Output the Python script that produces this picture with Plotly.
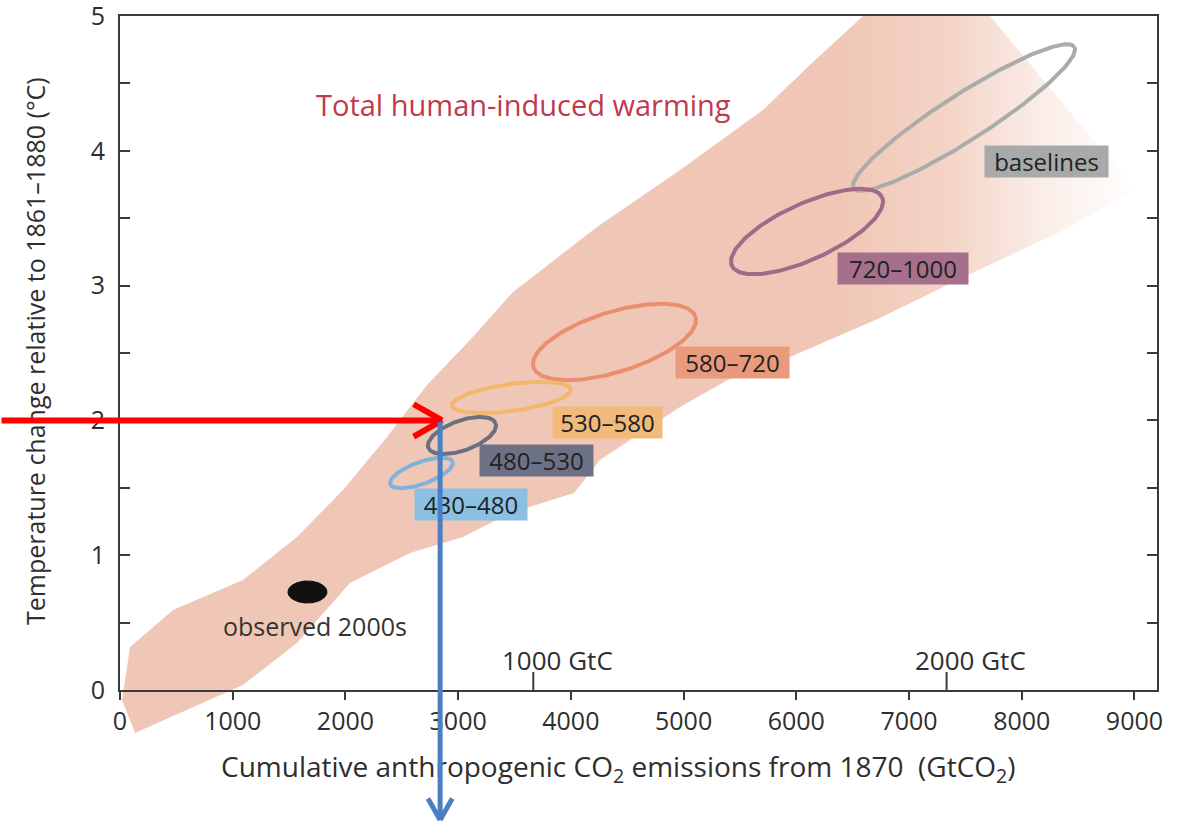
import math
import plotly.graph_objects as go

# ---------------- data ----------------
# Outline of the "total human-induced warming" band (GtCO2, degC)
BAND_UPPER_X = [18, 89, 470, 1091, 1570, 1978, 2369, 2724, 3105, 3487, 4232, 4968, 5704, 6148, 6592, 7718]
BAND_UPPER_Y = [-0.074, 0.319, 0.593, 0.816, 1.135, 1.484, 1.877, 2.263, 2.596, 2.953, 3.435, 3.858, 4.303, 4.659, 5.0, 5.0]
BAND_LOWER_X = [9005, 8339, 7523, 6742, 5944, 5438, 4968, 4525, 4258, 4028, 3460, 3043, 2573, 2040, 1570, 1091, 133]
BAND_LOWER_Y = [3.709, 3.398, 3.079, 2.760, 2.470, 2.322, 2.099, 1.855, 1.706, 1.461, 1.313, 1.135, 1.016, 0.794, 0.349, 0.037, -0.319]

# Scenario ellipses (CO2-eq concentration categories, ppm)
SCENARIOS = ["baselines", "720–1000", "580–720", "530–580", "480–530", "430–480"]
SCEN_CO2 = [7488, 6095, 4387, 3473, 3034, 2675]            # centre, GtCO2
SCEN_TEMP = [4.247, 3.401, 2.582, 2.170, 1.888, 1.610]      # centre, degC
SCEN_CO2_HALF = [979, 667, 719, 527, 299, 277]              # major half-axis, GtCO2 component
SCEN_TEMP_HALF = [0.524, 0.254, 0.187, 0.060, 0.090, 0.083] # major half-axis, degC component
SCEN_TEMP_WIDTH = [0.171, 0.208, 0.223, 0.100, 0.111, 0.082]  # minor half-axis, degC
LABEL_CO2 = [8220, 6946, 5434, 4325, 3695, 3114]
LABEL_TEMP = [3.921, 3.127, 2.433, 1.984, 1.699, 1.376]

OBS_NAME = "observed 2000s"
OBS_CO2, OBS_TEMP = 1663, 0.727
OBS_CO2_HALF, OBS_TEMP_WIDTH = 173, 0.082
OBS_LABEL_CO2, OBS_LABEL_TEMP = 1726, 0.475

BAND_NAME = "Total human-induced warming"
BAND_LABEL_CO2, BAND_LABEL_TEMP = 3584, 4.347

X_TICKS = [0, 1000, 2000, 3000, 4000, 5000, 6000, 7000, 8000, 9000]
X_TICK_TEXT = ["0", "1000", "2000", "3000", "4000", "5000", "6000", "7000", "8000", "9000"]
Y_TICKS = [0, 0.5, 1, 1.5, 2, 2.5, 3, 3.5, 4, 4.5, 5]
Y_TICK_TEXT = ["0", "", "1", "", "2", "", "3", "", "4", "", "5"]
GTC_TICKS = [1000, 2000]
GTCO2_PER_GTC = 44.0 / 12.0

READ_CO2 = 2840
READ_TEMP = 2.0
READ_ARROW_END = -0.95

# ---------------- layout / style constants ----------------
FIG_W, FIG_H = 1182, 821
BOX_L, BOX_R, BOX_T, BOX_B = 120, 1157, 16, 690   # frame in pixels
X_MAX, Y_MAX = 9200, 5
KX = (BOX_R - BOX_L) / X_MAX      # px per GtCO2
KY = (BOX_B - BOX_T) / Y_MAX      # px per degC
FULL_X = [-BOX_L / KX, X_MAX + (FIG_W - BOX_R) / KX]
FULL_Y = [-(FIG_H - BOX_B) / KY, Y_MAX + BOX_T / KY]
EPS = 1e-6

FONT = "Open Sans"
AXIS_COLOR = "#3a3a3a"
TEXT_COLOR = "#2e2e2e"
BAND_RGB = "240,199,182"
ELL_COLORS = ["#a9aca9", "#a3698a", "#ea8e70", "#f2b76a", "#6c6f80", "#80b3da"]
BOX_COLORS = ["#a8aaa9", "#a6708d", "#e99a7d", "#f1b97a", "#6d7186", "#8cc0e2"]
BOX_W = [123, 130, 113, 109, 113, 112]
BOX_H = 31


def ellipse(cx, cy, hx, hy, w, n=181):
    ux, uy = hx * KX, hy * KY
    a = math.hypot(ux, uy)
    nx, ny = -uy / a, ux / a
    bx, by = nx * w * KY, ny * w * KY
    xs, ys = [], []
    for i in range(n):
        t = 2 * math.pi * i / (n - 1)
        px = ux * math.cos(t) + bx * math.sin(t)
        py = uy * math.cos(t) + by * math.sin(t)
        xs.append(cx + px / KX)
        ys.append(cy + py / KY)
    return xs, ys


fig = go.Figure()

# band
fig.add_trace(go.Scatter(
    x=BAND_UPPER_X + BAND_LOWER_X + [BAND_UPPER_X[0]],
    y=BAND_UPPER_Y + BAND_LOWER_Y + [BAND_UPPER_Y[0]],
    mode="lines", fill="toself",
    line=dict(width=0, color="rgba(0,0,0,0)"),
    fillcolor=f"rgb({BAND_RGB})",
    fillgradient=dict(
        type="horizontal", start=6400, stop=9050,
        colorscale=[[0, f"rgba({BAND_RGB},1)"], [0.35, f"rgba({BAND_RGB},0.78)"],
                    [0.7, f"rgba({BAND_RGB},0.28)"], [1, f"rgba({BAND_RGB},0)"]]),
    hoverinfo="skip", showlegend=False))

# scenario ellipses
for i, name in enumerate(SCENARIOS):
    ex, ey = ellipse(SCEN_CO2[i], SCEN_TEMP[i], SCEN_CO2_HALF[i], SCEN_TEMP_HALF[i], SCEN_TEMP_WIDTH[i])
    fig.add_trace(go.Scatter(x=ex, y=ey, mode="lines", name=name,
                             line=dict(color=ELL_COLORS[i], width=4),
                             hoverinfo="skip", showlegend=False))

# observed
ox, oy = ellipse(OBS_CO2, OBS_TEMP, OBS_CO2_HALF, 0.0, OBS_TEMP_WIDTH)
fig.add_trace(go.Scatter(x=ox, y=oy, mode="lines", fill="toself", fillcolor="#111111",
                         line=dict(color="#111111", width=1), hoverinfo="skip", showlegend=False))

# GtC ticks
for v in GTC_TICKS:
    fig.add_trace(go.Scatter(x=[v * GTCO2_PER_GTC] * 2, y=[0, 18 / KY], mode="lines",
                             line=dict(color=AXIS_COLOR, width=2), hoverinfo="skip", showlegend=False))

# dummy trace for the frame subplot
fig.add_trace(go.Scatter(x=[None], y=[None], xaxis="x2", yaxis="y2", showlegend=False, hoverinfo="skip"))

annotations = []
for i, name in enumerate(SCENARIOS):
    annotations.append(dict(x=LABEL_CO2[i], y=LABEL_TEMP[i], xref="x", yref="y", text=name,
                            showarrow=False, bgcolor=BOX_COLORS[i], width=BOX_W[i], height=BOX_H,
                            borderpad=0, font=dict(family=FONT, size=24, color="#222222")))
annotations.append(dict(x=OBS_LABEL_CO2, y=OBS_LABEL_TEMP, xref="x", yref="y", text=OBS_NAME,
                        showarrow=False, font=dict(family=FONT, size=25, color="#333333")))
annotations.append(dict(x=BAND_LABEL_CO2, y=BAND_LABEL_TEMP, xref="x", yref="y", text=BAND_NAME,
                        showarrow=False, font=dict(family=FONT, size=29, color="#c1394c")))
for v in GTC_TICKS:
    annotations.append(dict(x=v * GTCO2_PER_GTC, y=0, xref="x", yref="y", text=f"{v} GtC",
                            showarrow=False, xshift=24, yshift=30,
                            font=dict(family=FONT, size=26, color=TEXT_COLOR)))
# axis titles
annotations.append(dict(x=35 / FIG_W, y=1 - 351 / FIG_H, xref="paper", yref="paper",
                        xanchor="center", yanchor="middle",
                        text="Temperature change relative to 1861–1880 (°C)", textangle=-90,
                        showarrow=False, font=dict(family=FONT, size=25, color=TEXT_COLOR)))
annotations.append(dict(x=618 / FIG_W, y=1 - 768 / FIG_H, xref="paper", yref="paper",
                        xanchor="center", yanchor="middle",
                        text="Cumulative anthropogenic CO<sub>2</sub> emissions from 1870 \u00a0(GtCO<sub>2</sub>)",
                        showarrow=False, font=dict(family=FONT, size=28, color=TEXT_COLOR)))


def line_ann(x0, y0, x1, y1, color, width):
    return dict(x=x1, y=y1, ax=x0, ay=y0, xref="x", yref="y", axref="x", ayref="y",
                text="", showarrow=True, arrowhead=0, arrowwidth=width, arrowcolor=color,
                standoff=0, startstandoff=0)


RED, BLUE = "#ff0000", "#4a7fc1"
# red horizontal arrow to the 2 degC point
annotations.append(line_ann(FULL_X[0], READ_TEMP, READ_CO2, READ_TEMP, RED, 6))
annotations.append(line_ann(READ_CO2 - 28 / KX, READ_TEMP + 17 / KY, READ_CO2 + 2 / KX, READ_TEMP, RED, 6))
annotations.append(line_ann(READ_CO2 - 28 / KX, READ_TEMP - 17 / KY, READ_CO2 + 2 / KX, READ_TEMP, RED, 6))
# blue vertical arrow down to the emissions axis
annotations.append(line_ann(READ_CO2, READ_TEMP, READ_CO2, READ_ARROW_END, BLUE, 5))
annotations.append(line_ann(READ_CO2 - 13 / KX, READ_ARROW_END + 21 / KY, READ_CO2, READ_ARROW_END - 2 / KY, BLUE, 5))
annotations.append(line_ann(READ_CO2 + 13 / KX, READ_ARROW_END + 21 / KY, READ_CO2, READ_ARROW_END - 2 / KY, BLUE, 5))

fig.update_layout(
    template="none",
    width=FIG_W, height=FIG_H,
    margin=dict(l=0, r=0, t=0, b=0, pad=0),
    paper_bgcolor="white", plot_bgcolor="rgba(0,0,0,0)",
    showlegend=False, hovermode=False,
    xaxis=dict(domain=[0, 1], range=FULL_X, visible=False, fixedrange=True),
    yaxis=dict(domain=[0, 1], range=FULL_Y, visible=False, fixedrange=True),
    xaxis2=dict(domain=[BOX_L / FIG_W, BOX_R / FIG_W], range=[-EPS, X_MAX], anchor="y2",
                showline=True, linecolor=AXIS_COLOR, linewidth=2, mirror=True,
                ticks="outside", ticklen=8, tickwidth=2, tickcolor=AXIS_COLOR,
                tickvals=X_TICKS, ticktext=X_TICK_TEXT, showgrid=False, zeroline=False,
                ticklabeloverflow="allow",
                tickfont=dict(family=FONT, size=25, color=TEXT_COLOR), fixedrange=True),
    yaxis2=dict(domain=[1 - BOX_B / FIG_H, 1 - BOX_T / FIG_H], range=[-EPS, Y_MAX + EPS], anchor="x2",
                showline=True, linecolor=AXIS_COLOR, linewidth=2, mirror="allticks",
                ticks="inside", ticklen=10, tickwidth=2, tickcolor=AXIS_COLOR,
                tickvals=Y_TICKS, ticktext=Y_TICK_TEXT, showgrid=False, zeroline=False,
                ticklabelstandoff=8, ticklabeloverflow="allow",
                tickfont=dict(family=FONT, size=25, color=TEXT_COLOR), fixedrange=True),
    annotations=annotations,
)

fig.write_html("out.html", config={"displayModeBar": False},
               post_script="document.body.style.margin='0';")
